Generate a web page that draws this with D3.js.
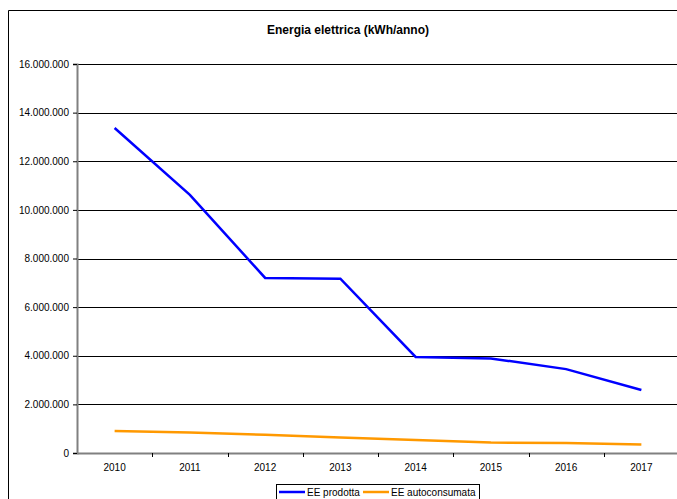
<!DOCTYPE html>
<html><head><meta charset="utf-8">
<script src="https://cdn.jsdelivr.net/npm/d3@7"></script>
<style>html,body{margin:0;background:#fff;overflow:hidden}svg{display:block;font-family:"Liberation Sans",Arial,sans-serif}</style>
</head><body>
<script>
const years = ["2010","2011","2012","2013","2014","2015","2016","2017"];
const eeProdotta = [13370000, 10620000, 7200000, 7170000, 3950000, 3890000, 3450000, 2590000];
const eeAutoconsumata = [905000, 840000, 750000, 640000, 530000, 430000, 410000, 345000];
const yTicks = [0, 2000000, 4000000, 6000000, 8000000, 10000000, 12000000, 14000000, 16000000];
const seriesNames = ["EE prodotta", "EE autoconsumata"];
const colors = ["#0000ff", "#ff9900"];

(function () {
const W = 677, H = 499;
const svg = d3.select("body").append("svg").attr("width", W).attr("height", H);

// outer frame (left and top edges visible)
svg.append("path").attr("d", "M8.5,499V10.5H677")
  .attr("fill", "none").attr("stroke", "#000").attr("stroke-width", 1);

svg.append("text").attr("x", 348).attr("y", 34).attr("text-anchor", "middle")
  .attr("font-size", 12).attr("font-weight", "bold").text("Energia elettrica (kWh/anno)");

const mL = 77, mR = 679, mT = 64, mB = 453;
const x = d3.scaleBand().domain(years).range([mL, mR]);
const y = d3.scaleLinear().domain([0, 16000000]).range([mB, mT]);
const fmt = d => d3.format(",")(d).replace(/,/g, ".");

// gridlines
svg.append("g").selectAll("line").data(yTicks.filter(d => d > 0)).join("line")
  .attr("x1", mL).attr("x2", mR)
  .attr("y1", d => Math.round(y(d)) + 0.5).attr("y2", d => Math.round(y(d)) + 0.5)
  .attr("stroke", "#000").attr("stroke-width", 1);

// y axis
const ya = svg.append("g").attr("transform", `translate(${mL},0)`)
  .call(d3.axisLeft(y).tickValues(yTicks).tickFormat(fmt).tickSize(4).tickPadding(4));
ya.select(".domain").attr("stroke", "#808080").attr("stroke-width", 2);
ya.selectAll(".tick line").attr("stroke", "#000");
ya.selectAll("text").attr("font-size", 10).attr("fill", "#000").attr("font-family", "Liberation Sans, Arial, sans-serif");

// x axis
const xa = svg.append("g").attr("transform", `translate(0,${mB})`)
  .call(d3.axisBottom(x).tickSize(0).tickPadding(11));
xa.select(".domain").attr("stroke", "#808080").attr("stroke-width", 2);
xa.selectAll("text").attr("font-size", 10).attr("fill", "#000").attr("font-family", "Liberation Sans, Arial, sans-serif");
svg.append("g").selectAll("line").data(years.slice(1)).join("line")
  .attr("x1", d => Math.round(x(d)) + 0.5).attr("x2", d => Math.round(x(d)) + 0.5)
  .attr("y1", mB).attr("y2", mB + 4).attr("stroke", "#000");

const line = d3.line().x((d, i) => x(years[i]) + x.bandwidth() / 2).y(d => y(d));
[eeProdotta, eeAutoconsumata].forEach((s, k) => {
  svg.append("path").datum(s).attr("d", line).attr("fill", "none")
    .attr("stroke", colors[k]).attr("stroke-width", 2.5);
});

// legend
const lg = svg.append("g");
lg.append("rect").attr("x", 276.5).attr("y", 484.5).attr("width", 203).attr("height", 30)
  .attr("fill", "#fff").attr("stroke", "#000");
const items = [{x: 279, name: seriesNames[0], c: colors[0]}, {x: 363, name: seriesNames[1], c: colors[1]}];
items.forEach(it => {
  lg.append("line").attr("x1", it.x).attr("x2", it.x + 26).attr("y1", 492).attr("y2", 492)
    .attr("stroke", it.c).attr("stroke-width", 2.5);
  lg.append("text").attr("x", it.x + 28).attr("y", 495.5).attr("font-size", 10).text(it.name);
});
})();
</script>
</body></html>
